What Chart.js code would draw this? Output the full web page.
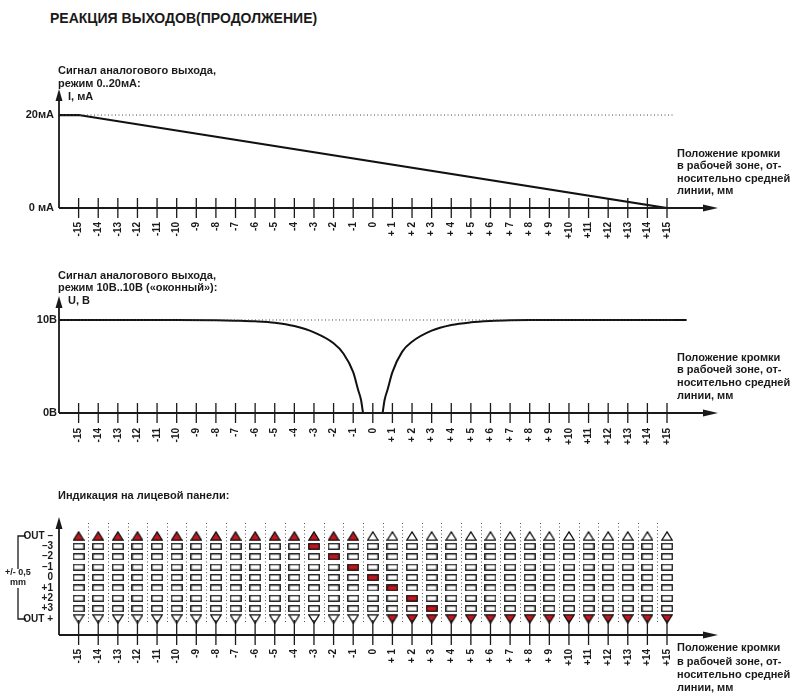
<!DOCTYPE html>
<html lang="ru">
<head>
<meta charset="UTF-8">
<title>Реакция выходов</title>
<style>
  body { margin: 0; background: #fff; font-family: "Liberation Sans", Arial, sans-serif; color: #1a1a1a; }
  .page { position: relative; width: 800px; height: 699px; overflow: hidden; }
  canvas { position: absolute; left: 0; }
  .txt { position: absolute; font-weight: bold; font-size: 11px; line-height: 13px; white-space: nowrap; z-index: 2; }
  .title { font-size: 14px; line-height: 18px; }
  .small { font-size: 9px; line-height: 9.5px; text-align: center; width: 40px; }
</style>
</head>
<body>
<div class="page">
  <canvas id="currentChart" width="800" height="190" style="top:60px"></canvas>
  <canvas id="voltChart" width="800" height="200" style="top:250px"></canvas>
  <canvas id="ledChart" width="800" height="249" style="top:450px"></canvas>

  <div class="txt title" style="left:50px;top:9px">РЕАКЦИЯ ВЫХОДОВ(ПРОДОЛЖЕНИЕ)</div>

  <div class="txt" style="left:58px;top:63.5px">Сигнал аналогового выхода,<br>режим 0..20мА:</div>
  <div class="txt" style="left:68px;top:89.5px">I, мА</div>
  <div class="txt" style="left:677px;top:146.8px;line-height:12.4px">Положение кромки<br>в рабочей зоне, от-<br>носительно средней<br>линии, мм</div>

  <div class="txt" style="left:58px;top:268.7px;line-height:12.5px">Сигнал аналогового выхода,<br>режим 10В..10В («оконный»):</div>
  <div class="txt" style="left:68px;top:293.5px">U, В</div>
  <div class="txt" style="left:677px;top:350.6px;line-height:12.7px">Положение кромки<br>в рабочей зоне, от-<br>носительно средней<br>линии, мм</div>

  <div class="txt" style="left:58px;top:488.5px">Индикация на лицевой панели:</div>
  <div class="txt small" style="left:-2px;top:568px">+/- 0,5<br>mm</div>
  <div class="txt" style="left:677px;top:641.3px;line-height:13.3px">Положение кромки<br>в рабочей зоне, от-<br>носительно средней<br>линии, мм</div>
</div>

<script src="https://cdn.jsdelivr.net/npm/chart.js"></script>
<script>
  // edge position, mm
  const positions = [-15, -14, -13, -12, -11, -10, -9, -8, -7, -6, -5, -4, -3, -2, -1, 0,
    1, 2, 3, 4, 5, 6, 7, 8, 9, 10, 11, 12, 13, 14, 15];
  const tickLabels = ["-15", "-14", "-13", "-12", "-11", "-10", "-9", "-8", "-7", "-6", "-5", "-4", "-3", "-2", "-1", "0",
    "+ 1", "+ 2", "+ 3", "+ 4", "+ 5", "+ 6", "+ 7", "+ 8", "+ 9", "+10", "+11", "+12", "+13", "+14", "+15"];

  // 0..20 mA output
  const currentX = [-16, -15, 15, 16.5];
  const currentY = [20, 20, 0, 0];
  const currentTicks = [0, 20];
  const currentTickLabels = ["0 мА", "20мА"];

  // 10V..10V window output
  const voltLeftX = [-16, -10, -8, -7, -6, -5, -4, -3, -2, -1.5, -1, -0.75, -0.6, -0.5];
  const voltLeftY = [10, 10, 9.98, 9.93, 9.86, 9.71, 9.35, 8.67, 7.5, 6.4, 4.4, 2.5, 1.4, 0];
  const voltRightX = [0.5, 0.6, 0.75, 1, 1.5, 2, 3, 4, 5, 6, 7, 8, 10, 16];
  const voltRightY = [0, 1.4, 2.5, 4.4, 6.6, 7.66, 8.85, 9.46, 9.75, 9.89, 9.96, 9.99, 10, 10];
  const voltTicks = [0, 10];
  const voltTickLabels = ["0В", "10В"];

  // front panel LEDs
  const ledRows = ["OUT –", "–3", "–2", "–1", "0", "+1", "+2", "+3", "OUT +"];
  const outMinusOn = [1, 1, 1, 1, 1, 1, 1, 1, 1, 1, 1, 1, 1, 1, 1, 0,
    0, 0, 0, 0, 0, 0, 0, 0, 0, 0, 0, 0, 0, 0, 0];
  const outPlusOn = [0, 0, 0, 0, 0, 0, 0, 0, 0, 0, 0, 0, 0, 0, 0, 0,
    1, 1, 1, 1, 1, 1, 1, 1, 1, 1, 1, 1, 1, 1, 1];
  const litLed = ["", "", "", "", "", "", "", "", "", "", "", "", "–3", "–2", "–1", "0",
    "+1", "+2", "+3", "", "", "", "", "", "", "", "", "", "", "", ""];

  const INK = "#1a1a1a";
  const RED = "#c0171e";
  const tickFont = { family: "Liberation Sans", weight: "bold", size: 10 };

  Chart.defaults.font.family = "Liberation Sans";
  Chart.defaults.animation = false;

  function xScale(height, pad) {
    return {
      type: "linear",
      min: -16,
      max: 17.6,
      grid: { display: false, drawTicks: false },
      border: { display: false },
      afterBuildTicks: (s) => { s.ticks = positions.map((v) => ({ value: v })); },
      afterFit: (s) => { s.height = height; },
      ticks: {
        autoSkip: false,
        minRotation: 90,
        maxRotation: 90,
        padding: pad,
        color: INK,
        font: tickFont,
        callback: (v, i) => tickLabels[i],
      },
    };
  }

  function yScale(min, max, ticks, labels, pad, size, reverse) {
    return {
      type: "linear",
      min: min,
      max: max,
      reverse: !!reverse,
      grid: { display: false, drawTicks: false },
      border: { display: false },
      afterBuildTicks: (s) => { s.ticks = ticks.map((v) => ({ value: v })); },
      afterFit: (s) => { s.width = 59; },
      ticks: {
        autoSkip: false,
        padding: pad,
        color: INK,
        font: { family: "Liberation Sans", weight: "bold", size: size },
        callback: (v, i) => labels[i],
      },
    };
  }

  // axes with arrows and ticks crossing the x axis
  function axisDecor(up, down) {
    return {
      id: "axisDecor",
      afterDraw(chart) {
        const { ctx, chartArea: a } = chart;
        const x = chart.scales.x;
        ctx.save();
        ctx.strokeStyle = INK;
        ctx.fillStyle = INK;
        ctx.lineWidth = 1.8;
        ctx.beginPath();
        ctx.moveTo(a.left, a.bottom);
        ctx.lineTo(a.left, a.top + 6);
        ctx.moveTo(a.left, a.bottom);
        ctx.lineTo(a.right - 8, a.bottom);
        ctx.stroke();

        ctx.beginPath();
        ctx.moveTo(a.left, a.top);
        ctx.lineTo(a.left - 3.5, a.top + 12);
        ctx.lineTo(a.left + 3.5, a.top + 12);
        ctx.closePath();
        ctx.fill();
        ctx.beginPath();
        ctx.moveTo(a.right, a.bottom);
        ctx.lineTo(a.right - 15, a.bottom - 3.5);
        ctx.lineTo(a.right - 15, a.bottom + 3.5);
        ctx.closePath();
        ctx.fill();

        ctx.lineWidth = 1.3;
        ctx.beginPath();
        positions.forEach((p) => {
          const px = x.getPixelForValue(p);
          ctx.moveTo(px, a.bottom - up);
          ctx.lineTo(px, a.bottom + down);
        });
        ctx.stroke();
        ctx.restore();
      },
    };
  }

  const baseOptions = (top, right) => ({
    responsive: false,
    layout: { padding: { left: 0, right: right, top: top, bottom: 0 } },
    plugins: { legend: { display: false }, tooltip: { enabled: false } },
  });

  // chart 1: current
  new Chart(document.getElementById("currentChart"), {
    type: "scatter",
    data: {
      datasets: [
        {
          data: [{ x: -16, y: currentTicks[1] }, { x: 15.4, y: currentTicks[1] }],
          showLine: true,
          borderColor: "#444",
          borderWidth: 1,
          borderDash: [1, 2.5],
          pointRadius: 0,
        },
        {
          data: currentX.map((x, i) => ({ x: x, y: currentY[i] })),
          showLine: true,
          borderColor: "#111",
          borderWidth: 2.2,
          pointRadius: 0,
        },
      ],
    },
    options: Object.assign(baseOptions(29, 82), {
      scales: {
        x: xScale(42, 14),
        y: yScale(0, 25.6, currentTicks, currentTickLabels, 5, 11),
      },
    }),
    plugins: [axisDecor(10, 10)],
  });

  // chart 2: voltage window
  new Chart(document.getElementById("voltChart"), {
    type: "scatter",
    data: {
      datasets: [
        {
          data: [{ x: -16, y: voltTicks[1] }, { x: 15.4, y: voltTicks[1] }],
          showLine: true,
          borderColor: "#444",
          borderWidth: 1,
          borderDash: [1, 2.5],
          pointRadius: 0,
        },
        {
          data: voltLeftX.map((x, i) => ({ x: x, y: voltLeftY[i] })),
          showLine: true,
          cubicInterpolationMode: "monotone",
          borderColor: "#111",
          borderWidth: 2,
          pointRadius: 0,
        },
        {
          data: voltRightX.map((x, i) => ({ x: x, y: voltRightY[i] })),
          showLine: true,
          cubicInterpolationMode: "monotone",
          borderColor: "#111",
          borderWidth: 2,
          pointRadius: 0,
        },
      ],
    },
    options: Object.assign(baseOptions(46, 82), {
      scales: {
        x: xScale(37, 15),
        y: yScale(0, 12.58, voltTicks, voltTickLabels, 2, 11),
      },
    }),
    plugins: [axisDecor(10, 10)],
  });

  // chart 3: LED indication
  function icon(w, h, draw) {
    const c = document.createElement("canvas");
    c.width = w;
    c.height = h;
    const g = c.getContext("2d");
    g.lineWidth = 1.3;
    g.strokeStyle = "#111";
    draw(g);
    return c;
  }
  function tri(g, pts, fill) {
    g.beginPath();
    g.moveTo(pts[0][0], pts[0][1]);
    g.lineTo(pts[1][0], pts[1][1]);
    g.lineTo(pts[2][0], pts[2][1]);
    g.closePath();
    g.fillStyle = fill;
    g.fill();
    g.stroke();
  }
  function box(g, fill) {
    g.fillStyle = fill;
    g.fillRect(0.75, 0.75, 10.5, 5.5);
    g.strokeRect(0.75, 0.75, 10.5, 5.5);
  }
  const icons = {
    upOn: icon(12, 10, (g) => tri(g, [[6, 0.9], [11.2, 9.2], [0.8, 9.2]], RED)),
    upOff: icon(12, 10, (g) => tri(g, [[6, 0.9], [11.2, 9.2], [0.8, 9.2]], "#fff")),
    downOn: icon(12, 10, (g) => tri(g, [[0.8, 0.8], [11.2, 0.8], [6, 9.1]], RED)),
    downOff: icon(12, 10, (g) => tri(g, [[0.8, 0.8], [11.2, 0.8], [6, 9.1]], "#fff")),
    rectOn: icon(12, 7, (g) => box(g, RED)),
    rectOff: icon(12, 7, (g) => box(g, "#fff")),
  };

  const ledPoints = [];
  positions.forEach((p, i) => {
    ledRows.forEach((row, r) => {
      let kind;
      if (r === 0) kind = outMinusOn[i] ? "upOn" : "upOff";
      else if (r === ledRows.length - 1) kind = outPlusOn[i] ? "downOn" : "downOff";
      else kind = litLed[i] === row ? "rectOn" : "rectOff";
      ledPoints.push({ x: p, y: r, kind: kind });
    });
  });

  const ledDecor = {
    id: "ledDecor",
    beforeDatasetsDraw(chart) {
      const { ctx } = chart;
      const x = chart.scales.x;
      const y = chart.scales.y;
      const top = y.getPixelForValue(0) - 13;
      const bottom = y.getPixelForValue(ledRows.length - 1) + 3;
      ctx.save();
      ctx.strokeStyle = "#555";
      ctx.lineWidth = 1;
      ctx.setLineDash([1, 2.5]);
      ctx.beginPath();
      positions.slice(0, -1).forEach((p) => {
        const px = Math.round(x.getPixelForValue(p + 0.5)) + 0.5;
        ctx.moveTo(px, top);
        ctx.lineTo(px, bottom);
      });
      ctx.stroke();
      ctx.setLineDash([]);

      // bracket for +/- 0,5 mm
      const y0 = y.getPixelForValue(0);
      const y1 = y.getPixelForValue(ledRows.length - 1);
      ctx.strokeStyle = INK;
      ctx.lineWidth = 1.3;
      ctx.beginPath();
      ctx.moveTo(26, y0);
      ctx.lineTo(18, y0);
      ctx.lineTo(18, y0 + 33);
      ctx.moveTo(18, y1 - 31);
      ctx.lineTo(18, y1);
      ctx.lineTo(26, y1);
      ctx.stroke();
      ctx.restore();
    },
  };

  new Chart(document.getElementById("ledChart"), {
    type: "scatter",
    data: {
      datasets: [
        {
          data: ledPoints,
          pointStyle: (c) => (c.raw ? icons[c.raw.kind] : "circle"),
          pointRadius: 5,
          pointHoverRadius: 5,
        },
      ],
    },
    options: Object.assign(baseOptions(67, 82), {
      scales: {
        x: xScale(64, 14),
        y: yScale(-1.83, 9.54, ledRows.map((r, i) => i), ledRows, 6, 10, true),
      },
    }),
    plugins: [ledDecor, axisDecor(15, 10)],
  });
</script>
</body>
</html>
